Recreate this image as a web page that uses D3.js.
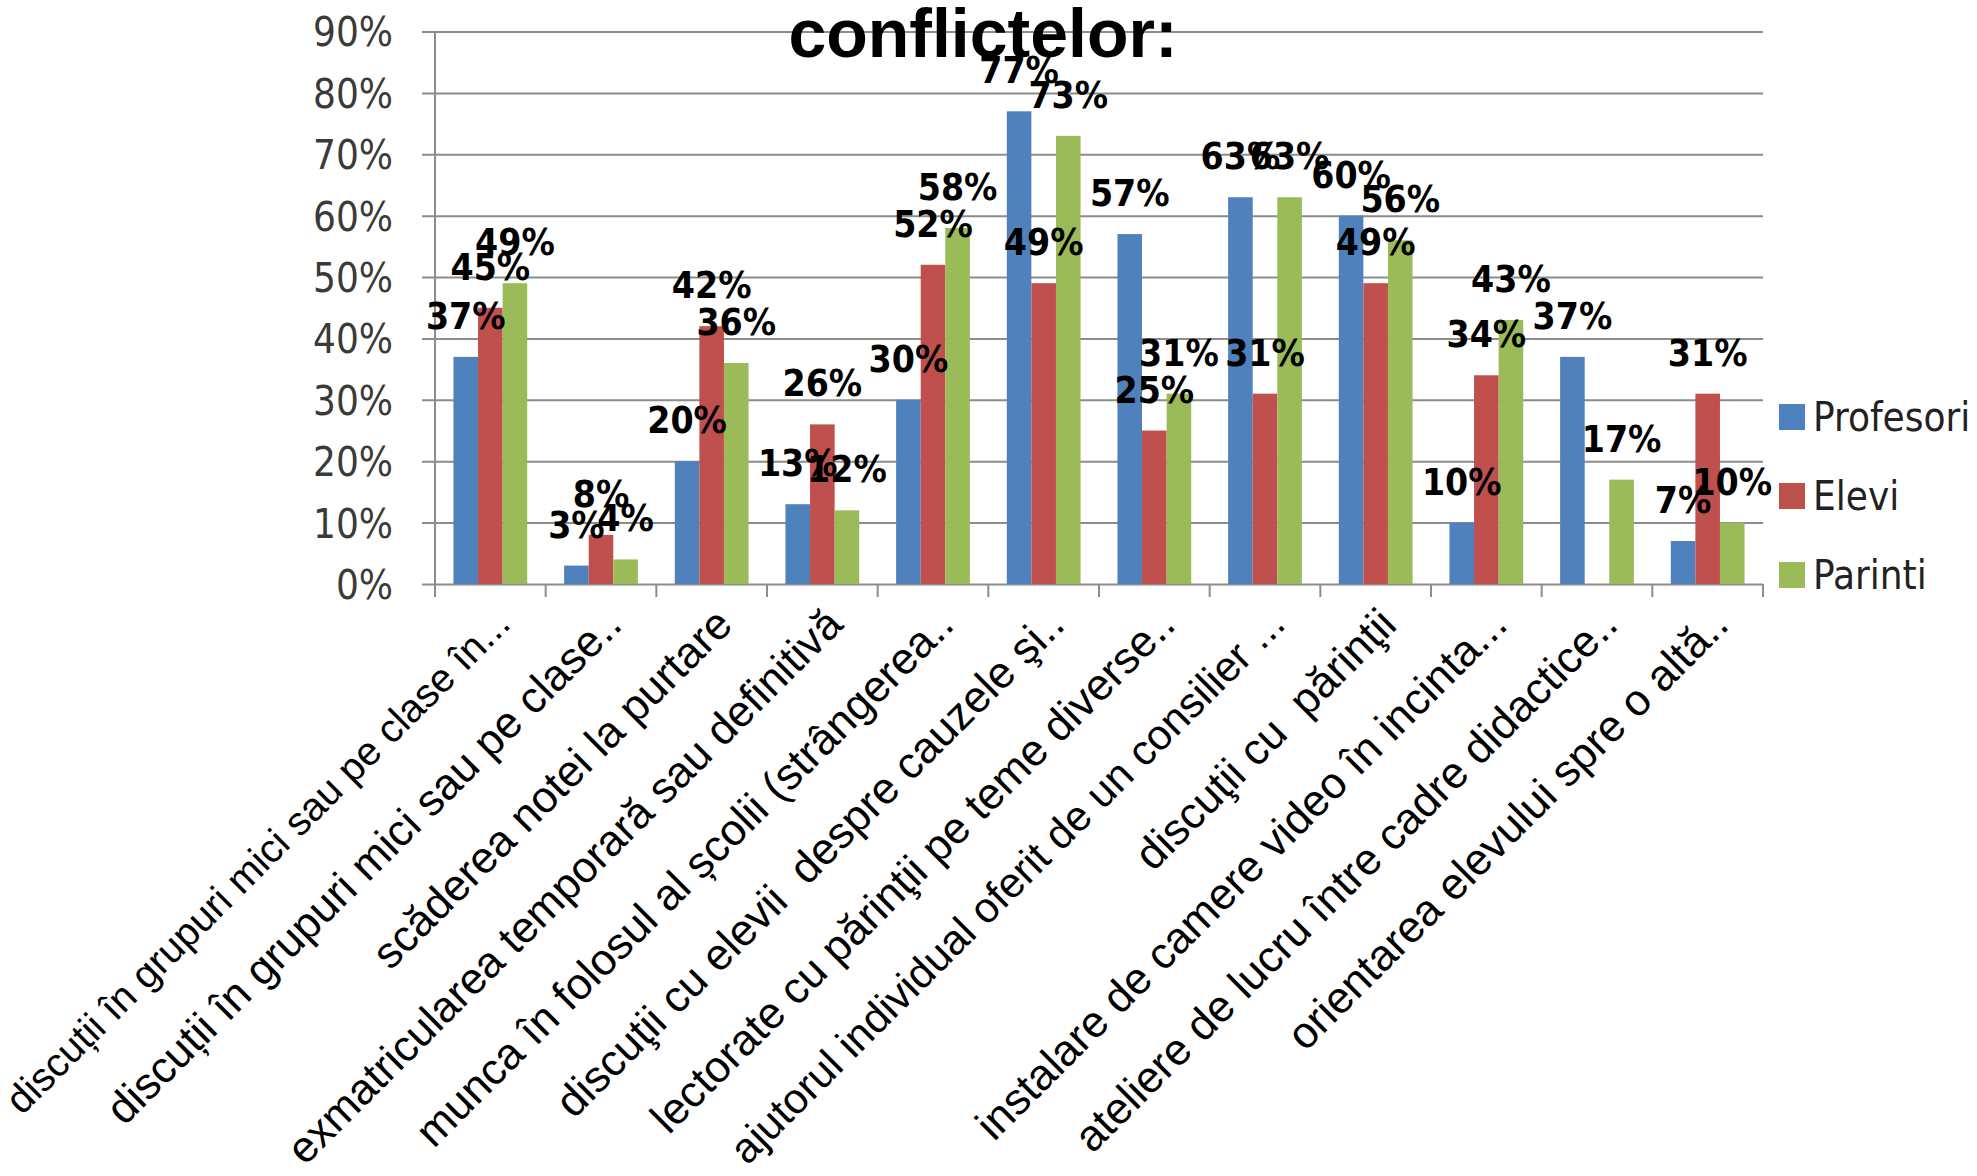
<!DOCTYPE html>
<html>
<head>
<meta charset="utf-8">
<script src="https://cdn.jsdelivr.net/npm/d3@7"></script>
<style>
  body { margin: 0; background: #fff; }
  .num { font-family: "DejaVu Sans Condensed", "DejaVu Sans", sans-serif; font-stretch: condensed; }
  .cat { font-family: "Liberation Sans", Arial, sans-serif; white-space: pre; }
</style>
</head>
<body>
<div id="chart"></div>
<script>
// categories
var categories = [
    "discuții în grupuri mici sau pe clase în...",
    "discuții în grupuri mici sau pe clase..",
    "scăderea notei la purtare",
    "exmatricularea temporară sau definitivă",
    "munca în folosul al școlii (strângerea..",
    "discuţii cu elevii  despre cauzele şi..",
    "lectorate cu părinţii pe teme diverse..",
    "ajutorul individual oferit de un consilier ...",
    "discuţii cu  părinţii",
    "instalare de camere video în incinta...",
    "ateliere de lucru între cadre didactice..",
    "orientarea elevului spre o altă.."
];

// series values (%)
var profesori = [37, 3, 20, 13, 30, 77, 57, 63, 60, 10, 37, 7];
var elevi = [45, 8, 42, 26, 52, 49, 25, 31, 49, 34, null, 31];
var parinti = [49, 4, 36, 12, 58, 73, 31, 63, 56, 43, 17, 10];

var seriesNames = ["Profesori", "Elevi", "Parinti"];
var seriesColors = ["#4F81BD", "#C0504D", "#9BBB59"];

// tick labels
var yTicks = [0, 10, 20, 30, 40, 50, 60, 70, 80, 90];
var titleText = "conflictelor:";

var svgWidth = 1977;
var svgHeight = 1176;

var margin = { top: 31.5, right: 214, bottom: 592, left: 435 };
var width = svgWidth - margin.left - margin.right;
var height = svgHeight - margin.top - margin.bottom;

var svg = d3.select("#chart")
    .append("svg")
    .attr("width", svgWidth)
    .attr("height", svgHeight);

var g = svg.append("g")
    .attr("transform", `translate(${margin.left}, ${margin.top})`);

var x0 = d3.scaleBand()
    .domain(categories)
    .range([0, width])
    .paddingInner(1 / 3)
    .paddingOuter(1 / 6);

var x1 = d3.scaleBand()
    .domain(seriesNames)
    .range([0, x0.bandwidth()])
    .padding(0);

var y = d3.scaleLinear()
    .domain([0, 90])
    .range([height, 0]);

// gridlines + y axis
var yAxis = g.append("g")
    .call(d3.axisLeft(y).tickValues(yTicks).tickSize(-width).tickPadding(42).tickFormat(d => d + "%"));
yAxis.select(".domain").remove();
yAxis.selectAll(".tick line")
    .attr("x1", -13)
    .attr("x2", width)
    .attr("stroke", "#8c8c8c")
    .attr("stroke-width", 2);
yAxis.selectAll(".tick text")
    .attr("class", "num")
    .attr("font-size", 40)
    .attr("fill", "#3a3a3a")
    .attr("dy", "0.36em");

// vertical axis line
g.append("line")
    .attr("x1", 0).attr("x2", 0)
    .attr("y1", 0).attr("y2", height + 13)
    .attr("stroke", "#8c8c8c")
    .attr("stroke-width", 2);

// x tick marks at category boundaries
var step = x0.step();
var boundaries = d3.range(categories.length + 1).map(i => i * step);
g.selectAll(".xtick")
    .data(boundaries)
    .enter()
    .append("line")
    .attr("x1", d => d).attr("x2", d => d)
    .attr("y1", height).attr("y2", height + 13)
    .attr("stroke", "#8c8c8c")
    .attr("stroke-width", 2);

// bars
var seriesData = [profesori, elevi, parinti];
var groups = g.selectAll(".cat-group")
    .data(categories)
    .enter()
    .append("g")
    .attr("transform", d => `translate(${x0(d)}, 0)`);

groups.selectAll("rect")
    .data((d, i) => seriesNames.map((s, j) => ({ s: s, j: j, v: seriesData[j][i] })).filter(e => e.v != null))
    .enter()
    .append("rect")
    .attr("x", d => x1(d.s))
    .attr("y", d => y(d.v))
    .attr("width", x1.bandwidth())
    .attr("height", d => height - y(d.v))
    .attr("fill", d => seriesColors[d.j]);

// x labels, shrink a label if it would run off the left or bottom edge
var labelDx = 12, labelDy = 32, labelSize = 44;
g.selectAll(".cat")
    .data(categories)
    .enter()
    .append("text")
    .attr("class", "cat")
    .attr("font-size", labelSize)
    .attr("fill", "#000")
    .attr("text-anchor", "end")
    .attr("dominant-baseline", "central")
    .attr("transform", d => `translate(${x0(d) + x0.bandwidth() / 2 + labelDx}, ${height + labelDy}) rotate(-45)`)
    .text(d => d)
    .each(function(d) {
        var len = this.getComputedTextLength();
        var endX = margin.left + x0(d) + x0.bandwidth() / 2 + labelDx;
        var endY = margin.top + height + labelDy;
        var room = Math.min(endX - 12, svgHeight - 20 - endY) * Math.SQRT2;
        if (len > room) {
            d3.select(this).attr("font-size", labelSize * room / len);
        }
    });

// title
svg.append("text")
    .attr("x", 983)
    .attr("y", 57)
    .attr("text-anchor", "middle")
    .attr("font-family", "Liberation Sans, Arial, sans-serif")
    .attr("font-weight", "bold")
    .attr("font-size", 68)
    .text(titleText);

// data labels
groups.selectAll(".lbl")
    .data((d, i) => seriesNames.map((s, j) => ({ s: s, j: j, v: seriesData[j][i] })).filter(e => e.v != null))
    .enter()
    .append("text")
    .attr("class", "num")
    .attr("font-size", 37)
    .attr("font-weight", "bold")
    .attr("text-anchor", "middle")
    .attr("x", d => x1(d.s) + x1.bandwidth() / 2)
    .attr("y", d => y(d.v) - 28)
    .text(d => d.v + "%");

// legend
var legend = svg.append("g")
    .attr("transform", "translate(1779, 417)");

var items = legend.selectAll("g")
    .data(seriesNames)
    .enter()
    .append("g")
    .attr("transform", (d, i) => `translate(0, ${i * 79})`);

items.append("rect")
    .attr("x", 0)
    .attr("y", -13)
    .attr("width", 26)
    .attr("height", 26)
    .attr("fill", (d, i) => seriesColors[i]);

items.append("text")
    .attr("class", "num")
    .attr("x", 34)
    .attr("y", 0)
    .attr("dy", "0.36em")
    .attr("font-size", 40)
    .attr("fill", "#222")
    .text(d => d);
</script>
</body>
</html>
